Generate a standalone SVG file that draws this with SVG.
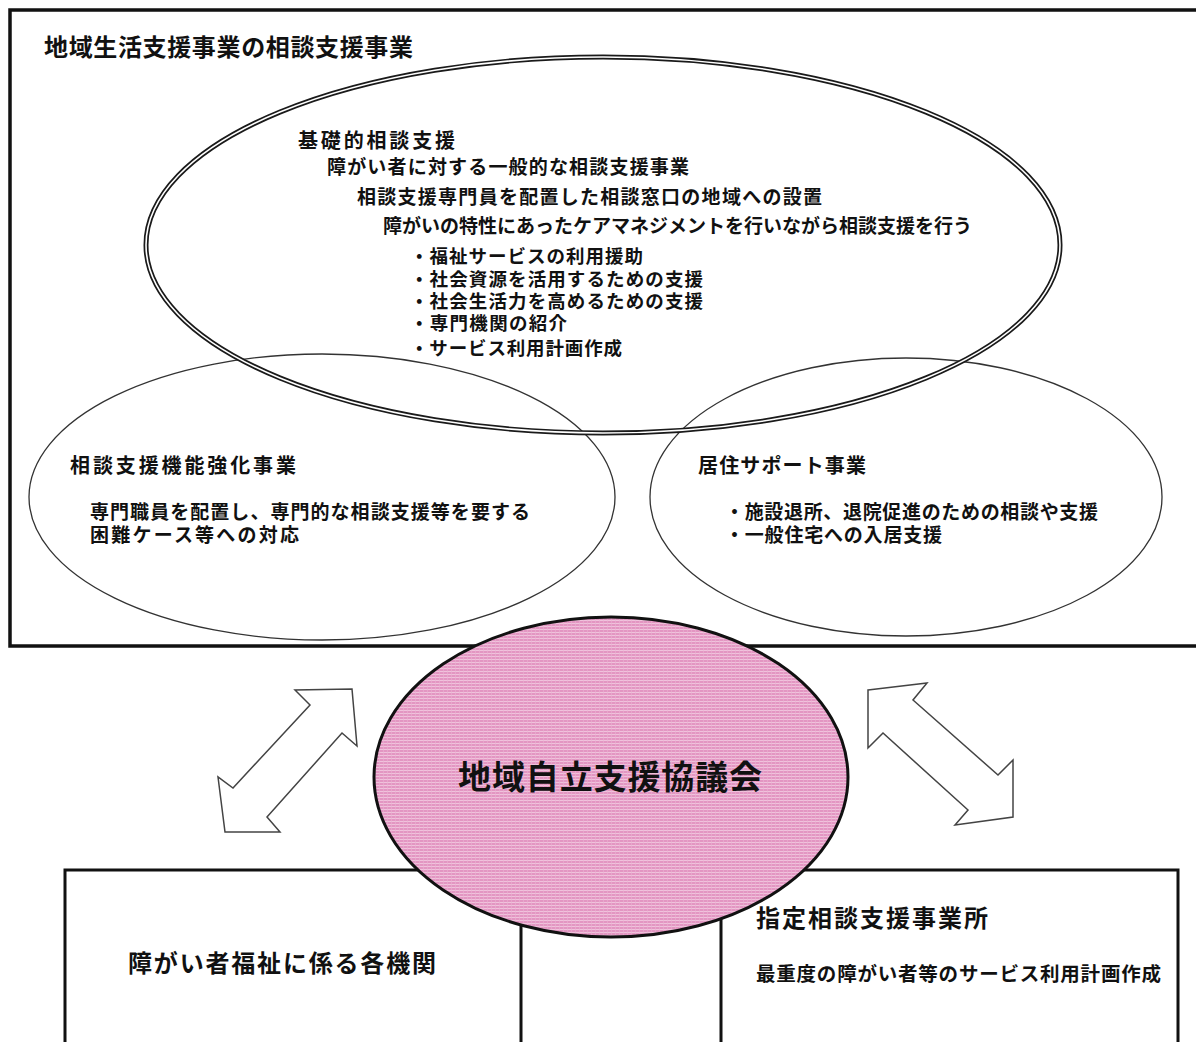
<svg xmlns="http://www.w3.org/2000/svg" width="1196" height="1042" viewBox="0 0 1196 1042">
<defs>
<pattern id="pinkTex" width="4" height="3" patternUnits="userSpaceOnUse">
<rect width="4" height="3" fill="#e396c2"/>
<rect y="2" width="4" height="1" fill="#f0c2dc"/>
<rect x="3" width="1" height="3" fill="#eab0d1" opacity="0.6"/>
</pattern>
<style>
text{font-family:'Noto Sans CJK JP','Noto Sans CJK SC',sans-serif;fill:#111;}
.t{font-size:19px;font-weight:600;}
.s{font-size:18.5px;font-weight:600;}
.h{font-size:20px;font-weight:600;}
.b{font-size:24px;font-weight:600;}
.thin{fill:none;stroke:#333;stroke-width:1.3;}
.box{fill:#fff;stroke:#111;stroke-width:3;}
.arrow{fill:#fff;stroke:#444;stroke-width:1.5;stroke-linejoin:miter;}
</style>
</defs>
<rect width="1196" height="1042" fill="#fff"/>

<g id="frame">
<rect x="10" y="10" width="1200" height="636" fill="#fff" stroke="#111" stroke-width="3.5"/>
<text x="44" y="56" style="font-size:24px;font-weight:700" textLength="369">地域生活支援事業の相談支援事業</text>
</g>

<g id="node-kinou">
<ellipse class="thin" cx="322" cy="497" rx="293" ry="143"/>
<text class="h" x="70" y="473" textLength="226">相談支援機能強化事業</text>
<text class="t" x="90" y="519" textLength="440">専門職員を配置し、専門的な相談支援等を要する</text>
<text class="t" x="90" y="542" textLength="209">困難ケース等への対応</text>
</g>

<g id="node-kyoju">
<ellipse class="thin" cx="906" cy="497" rx="256" ry="139"/>
<text class="h" x="698" y="473" textLength="168">居住サポート事業</text>
<text class="t" x="725" y="519" textLength="373">・施設退所、退院促進のための相談や支援</text>
<text class="t" x="725" y="542" textLength="217">・一般住宅への入居支援</text>
</g>

<g id="node-kiso">
<ellipse cx="603" cy="245" rx="457" ry="188" fill="none" stroke="#1a1a1a" stroke-width="5"/>
<ellipse cx="603" cy="245" rx="457" ry="188" fill="none" stroke="#fff" stroke-width="1.6"/>
<text class="h" x="298" y="148" textLength="157">基礎的相談支援</text>
<text class="t" x="327" y="174" textLength="362">障がい者に対する一般的な相談支援事業</text>
<text class="t" x="357" y="204" textLength="465">相談支援専門員を配置した相談窓口の地域への設置</text>
<text class="t" x="383" y="233" textLength="589">障がいの特性にあったケアマネジメントを行いながら相談支援を行う</text>
<text class="s" x="410" y="263" textLength="233">・福祉サービスの利用援助</text>
<text class="s" x="410" y="286" textLength="293">・社会資源を活用するための支援</text>
<text class="s" x="410" y="308" textLength="293">・社会生活力を高めるための支援</text>
<text class="s" x="410" y="330" textLength="157">・専門機関の紹介</text>
<text class="s" x="410" y="355" textLength="212">・サービス利用計画作成</text>
</g>

<g id="node-kikan">
<rect class="box" x="65" y="870" width="456" height="200"/>
<text class="b" x="128" y="972" textLength="308">障がい者福祉に係る各機関</text>
</g>

<g id="node-shitei">
<rect class="box" x="721" y="870" width="457" height="200"/>
<text class="b" x="756" y="927" textLength="232">指定相談支援事業所</text>
<text x="756" y="981" style="font-size:19.5px;font-weight:600" textLength="405">最重度の障がい者等のサービス利用計画作成</text>
</g>

<g id="connectors">
<polygon class="arrow" points="352,689 357,746 342,733 267,817 280,832 225,832 218,777 233,788 310,705 295,690"/>
<polygon class="arrow" points="868,690 927,683 913,700 998,775 1013,760 1013,817 955,825 968,810 883,733 868,748"/>
</g>

<g id="node-council">
<ellipse cx="611" cy="777" rx="237" ry="160" fill="url(#pinkTex)" stroke="#111" stroke-width="3"/>
<text x="458" y="789" style="font-size:33px;font-weight:700" textLength="304">地域自立支援協議会</text>
</g>
</svg>
